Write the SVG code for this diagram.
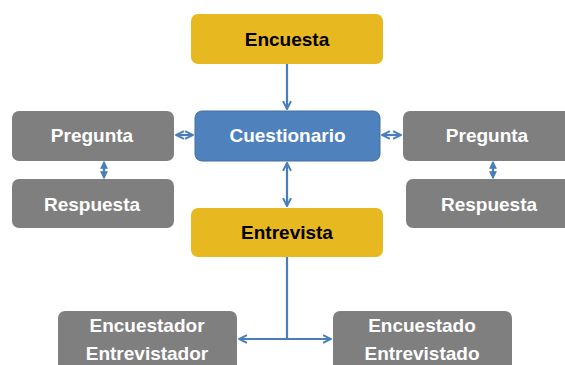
<svg xmlns="http://www.w3.org/2000/svg" width="565" height="365" viewBox="0 0 565 365">
<defs>
<style>
.y{fill:#E7B81F}
.b{fill:#4F81BD;stroke:#41709F;stroke-width:1}
.g{fill:#7F7F7F}
text{font-family:"Liberation Sans",Arial,sans-serif;font-weight:bold;font-size:19px;text-anchor:middle}
.tw{fill:#FFFFFF}
.tk{fill:#000000}
.c{stroke:#4A7EBB;stroke-width:2.2;fill:none}
</style>
<marker id="ah" viewBox="0 0 10 10" refX="9" refY="5" markerWidth="4.5" markerHeight="4.5" orient="auto-start-reverse">
<path d="M1,1 L9,5 L1,9" fill="none" stroke="#4A7EBB" stroke-width="2"/>
</marker>
<marker id="sm" viewBox="0 0 10 10" refX="9" refY="5" markerWidth="3.5" markerHeight="3.5" orient="auto-start-reverse">
<path d="M1,1 L9,5 L1,9 Z" fill="#4A7EBB" stroke="#4A7EBB" stroke-width="1.5"/>
</marker>
</defs>
<g id="connectors">
<line class="c" x1="287" y1="64" x2="287" y2="109" marker-end="url(#ah)"/>
<line class="c" x1="287" y1="163" x2="287" y2="206" marker-start="url(#ah)" marker-end="url(#ah)"/>
<line class="c" x1="176" y1="135" x2="193" y2="135" marker-start="url(#ah)" marker-end="url(#ah)"/>
<line class="c" x1="382" y1="135" x2="401" y2="135" marker-start="url(#ah)" marker-end="url(#ah)"/>
<line class="c" x1="104" y1="162" x2="104" y2="178" marker-start="url(#sm)" marker-end="url(#sm)"/>
<line class="c" x1="493" y1="162" x2="493" y2="178" marker-start="url(#sm)" marker-end="url(#sm)"/>
<line class="c" x1="287" y1="257" x2="287" y2="339"/>
<line class="c" x1="239" y1="339" x2="331" y2="339" marker-start="url(#ah)" marker-end="url(#ah)"/>
</g>
<g id="encuesta">
<rect class="y" x="191" y="14" width="192" height="50" rx="7"/>
<text class="tk" x="287" y="46">Encuesta</text>
</g>
<g id="cuestionario">
<rect class="b" x="195" y="111" width="185" height="50" rx="7"/>
<text class="tw" x="287.5" y="142">Cuestionario</text>
</g>
<g id="entrevista">
<rect class="y" x="191" y="208" width="192" height="49" rx="7"/>
<text class="tk" x="287" y="239">Entrevista</text>
</g>
<g id="pregunta-izq">
<rect class="g" x="12" y="111" width="162" height="50" rx="7"/>
<text class="tw" x="92" y="142">Pregunta</text>
</g>
<g id="respuesta-izq">
<rect class="g" x="12" y="179" width="162" height="49" rx="7"/>
<text class="tw" x="92" y="211">Respuesta</text>
</g>
<g id="pregunta-der">
<rect class="g" x="403" y="111" width="170" height="50" rx="7"/>
<text class="tw" x="487" y="142">Pregunta</text>
</g>
<g id="respuesta-der">
<rect class="g" x="406" y="179" width="167" height="49" rx="7"/>
<text class="tw" x="489" y="211">Respuesta</text>
</g>
<g id="encuestador">
<rect class="g" x="58" y="311" width="179" height="70" rx="7"/>
<text class="tw" x="147" y="332">Encuestador</text>
<text class="tw" x="147" y="360">Entrevistador</text>
</g>
<g id="encuestado">
<rect class="g" x="333" y="311" width="179" height="70" rx="7"/>
<text class="tw" x="422" y="332">Encuestado</text>
<text class="tw" x="422" y="360">Entrevistado</text>
</g>
</svg>
